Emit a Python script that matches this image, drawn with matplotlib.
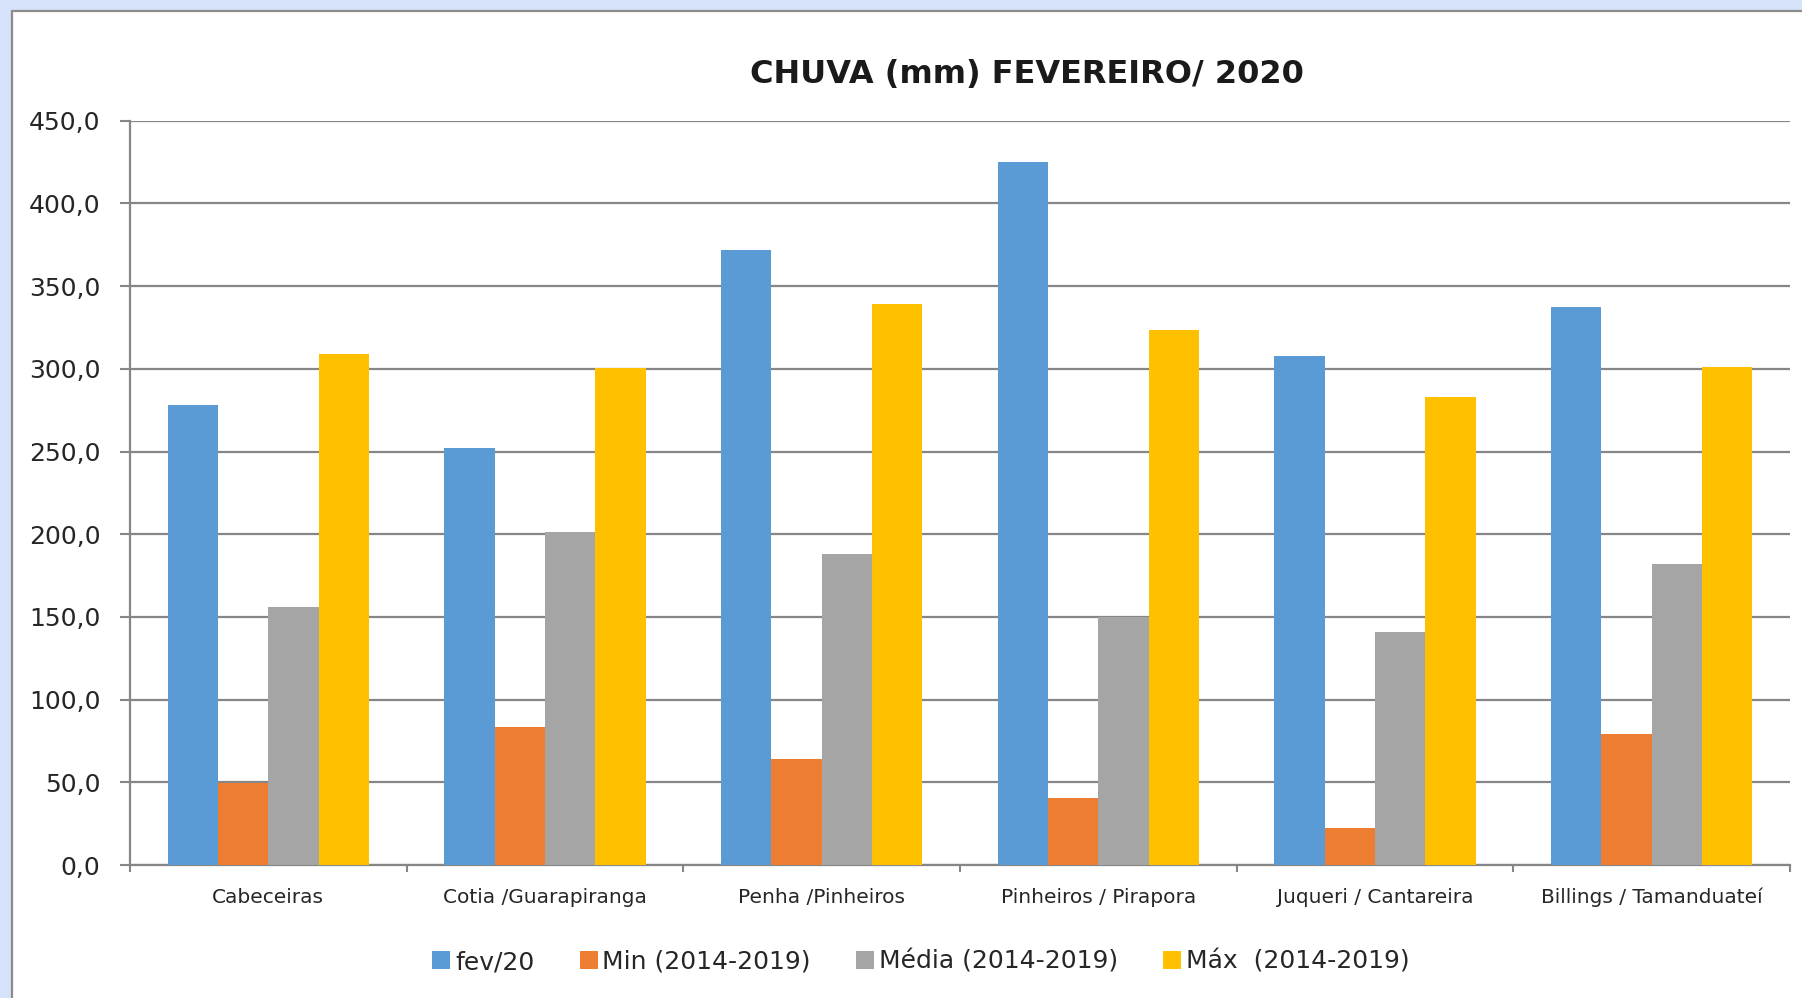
import matplotlib
matplotlib.use("Agg")
import matplotlib.pyplot as plt
import numpy as np
from matplotlib.patches import Rectangle, Patch
from matplotlib.ticker import FuncFormatter, FixedLocator

categories = ["Cabeceiras", "Cotia /Guarapiranga", "Penha /Pinheiros",
              "Pinheiros / Pirapora", "Juqueri / Cantareira", "Billings / Tamanduateí"]
fev20 = [278.4, 252.0, 371.8, 424.9, 307.9, 337.2]
min_1419 = [49.8, 83.2, 64.1, 40.5, 22.5, 79.3]
media_1419 = [155.8, 201.3, 187.9, 150.2, 140.6, 182.2]
max_1419 = [309.1, 300.6, 338.9, 323.4, 283.2, 300.9]
series_names = ["fev/20", "Min (2014-2019)", "Média (2014-2019)", "Máx  (2014-2019)"]
colors = ["#5B9BD5", "#ED7D31", "#A5A5A5", "#FFC000"]
title = "CHUVA (mm) FEVEREIRO/ 2020"
yticks = [0, 50, 100, 150, 200, 250, 300, 350, 400, 450]

plt.rcParams['font.family'] = ['DejaVu Sans']
W, H = 1802, 998
fig = plt.figure(figsize=(W / 100, H / 100), dpi=100)
fig.patch.set_facecolor("#D6E2FA")

# chart area panel (white with gray border, cropped at right/bottom)
panel = Rectangle((12 / W, -0.05), 1.2, (H - 11) / H + 0.05, transform=fig.transFigure,
                  facecolor="white", edgecolor="#8C8C8C", linewidth=1.6, zorder=-1)
fig.add_artist(panel)

grid_c = "#868686"
text_c = "#262626"
ax = fig.add_axes([130 / W, 1 - 865 / H, 1660 / W, (865 - 120.7) / H])
ax.set_facecolor("white")

data = [fev20, min_1419, media_1419, max_1419]
n = len(categories)
x = np.arange(n) + 0.5
w = 1 / 5.5
for i, (vals, c, name) in enumerate(zip(data, colors, series_names)):
    ax.bar(x + (i - 1.5) * w, vals, width=w, color=c, label=name, zorder=3, linewidth=0)

ax.set_xlim(0, n)
ax.set_ylim(0, 450)
ax.set_yticks(yticks)
ax.yaxis.set_major_formatter(FuncFormatter(lambda v, p: f"{v:.1f}".replace(".", ",")))
ax.grid(axis="y", color=grid_c, linewidth=1.6, zorder=1)
ax.set_axisbelow(True)

for s in ["top", "right"]:
    ax.spines[s].set_visible(False)
for s in ["left", "bottom"]:
    ax.spines[s].set_color(grid_c)
    ax.spines[s].set_linewidth(1.6)

ax.tick_params(axis="y", length=7.2, width=1.5, color=grid_c, pad=14,
               labelsize=18, labelcolor=text_c)
ax.set_xticks(x)
ax.set_xticklabels(categories)
ax.tick_params(axis="x", which="major", length=0, pad=16.5, labelsize=14.5, labelcolor=text_c)
ax.xaxis.set_minor_locator(FixedLocator(np.arange(n + 1)))
ax.tick_params(axis="x", which="minor", length=5, width=1.5, color=grid_c)

fig.text(1027 / W, 1 - 74.5 / H, title, ha="center", va="center",
         fontsize=23, fontweight="bold", color="#1a1a1a")

handles = [Patch(facecolor=c, edgecolor="none", label=nm) for c, nm in zip(colors, series_names)]
fig.legend(handles=handles, loc="center", bbox_to_anchor=(921 / W, 1 - 962 / H), ncol=4,
           frameon=False, fontsize=18, handlelength=0.72, handleheight=0.72,
           handletextpad=0.2, columnspacing=1.8, labelcolor=text_c, borderpad=0)

fig.savefig("out.png", dpi=100, facecolor=fig.get_facecolor())
